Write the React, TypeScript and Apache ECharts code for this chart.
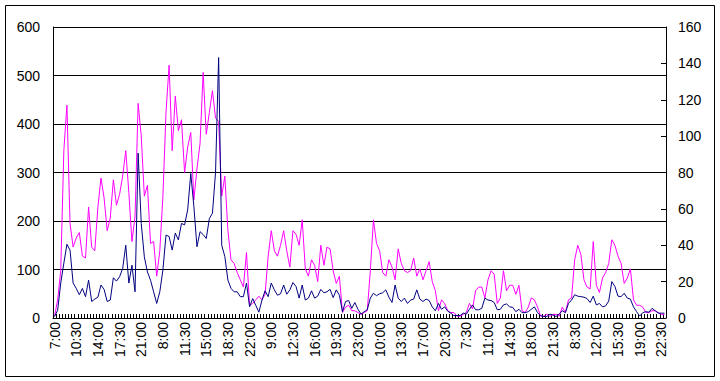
import React, { useEffect, useRef } from "react";
import * as echarts from "echarts";

// Half-hour slots shown for each day (night hours are skipped)
const slotTimes = [
  "7:00", "7:30", "8:00", "8:30", "9:00", "9:30", "10:00", "10:30", "11:00", "11:30",
  "12:00", "12:30", "13:00", "13:30", "14:00", "14:30", "15:00", "15:30", "16:00", "16:30",
  "17:00", "17:30", "18:00", "18:30", "19:00", "19:30", "20:00", "20:30", "21:00", "21:30",
  "22:00", "22:30", "23:00",
];
const dayCount = 6;

// Navy series, left axis (0-600)
const navyValues = [
  3, 16, 72, 113, 152, 140, 72, 61, 48, 61, 44, 78, 34, 39, 43, 68, 59, 34, 37, 83,
  76, 85, 102, 150, 72, 109, 54, 340, 195, 126, 95, 78, 54, 30, 54, 99, 171, 168, 140, 175,
  161, 195, 192, 223, 298, 230, 147, 178, 172, 164, 205, 216, 300, 537, 150, 127, 78, 61, 54, 54,
  44, 44, 72, 23, 40, 26, 12, 37, 56, 44, 72, 58, 47, 50, 68, 49, 58, 73, 65, 41,
  68, 37, 41, 56, 41, 45, 59, 52, 54, 59, 42, 58, 47, 13, 34, 36, 20, 32, 18, 8,
  13, 17, 41, 51, 46, 50, 52, 58, 43, 32, 68, 41, 34, 41, 30, 37, 39, 58, 39, 34,
  39, 36, 23, 15, 30, 18, 23, 14, 10, 5, 5, 5, 10, 8, 18, 27, 17, 17, 20, 41,
  37, 36, 32, 17, 18, 27, 29, 23, 22, 13, 18, 11, 11, 13, 18, 23, 11, 5, 3, 3,
  8, 6, 3, 8, 15, 11, 30, 37, 48, 45, 44, 43, 40, 32, 45, 27, 30, 23, 25, 35,
  75, 65, 45, 44, 51, 41, 39, 23, 13, 4, 11, 13, 12, 20, 15, 10, 10, 10,
];

// Magenta series, right axis (0-160)
const magentaValues = [
  1, 10, 26, 92, 117, 52, 39, 44, 47, 34, 33, 61, 39, 37, 61, 77, 66, 48, 55, 76,
  62, 68, 78, 92, 69, 42, 56, 118, 100, 67, 73, 41, 42, 23, 37, 67, 113, 139, 92, 122,
  103, 109, 80, 94, 102, 65, 82, 96, 135, 101, 113, 125, 110, 108, 67, 78, 48, 32, 30, 25,
  21, 17, 36, 7, 8, 10, 12, 10, 13, 34, 48, 37, 34, 40, 48, 37, 28, 48, 46, 40,
  54, 27, 23, 32, 29, 20, 40, 29, 39, 38, 26, 19, 23, 3, 6, 7, 4, 4, 3, 2,
  3, 4, 26, 54, 41, 37, 25, 23, 32, 28, 21, 38, 30, 26, 25, 26, 33, 23, 27, 21,
  26, 31, 20, 15, 4, 10, 8, 4, 3, 3, 1, 1, 2, 3, 8, 5, 15, 17, 17, 11,
  21, 26, 24, 8, 11, 26, 15, 18, 18, 13, 18, 4, 3, 6, 11, 10, 6, 1, 1, 2,
  1, 2, 2, 1, 6, 3, 10, 11, 32, 40, 35, 21, 17, 16, 42, 18, 14, 22, 25, 30,
  43, 40, 34, 30, 19, 22, 27, 10, 7, 7, 6, 3, 3, 4, 4, 3, 2, 2,
];

const categories: string[] = [];
for (let d = 0; d < dayCount; d++) {
  for (const t of slotTimes) categories.push(t);
}

const FONT = "'Liberation Sans', Arial, sans-serif";

export default function App() {
  const ref = useRef<HTMLDivElement>(null);

  useEffect(() => {
    document.body.style.margin = "0";
    if (!ref.current) return;
    const chart = echarts.init(ref.current, undefined, { renderer: "svg" });
    chart.setOption({
      animation: false,
      backgroundColor: "#ffffff",
      textStyle: { fontFamily: FONT },
      grid: { left: 53, right: 54, top: 27, bottom: 63, containLabel: false },
      xAxis: {
        type: "category",
        data: categories,
        boundaryGap: true,
        axisLine: { show: true, lineStyle: { color: "#000", width: 1 } },
        axisTick: { show: true, inside: true, interval: 0, length: 4, lineStyle: { color: "#000" } },
        axisLabel: { interval: 6, rotate: 90, color: "#000", fontSize: 14, margin: 4, fontFamily: FONT },
        splitLine: { show: false },
      },
      yAxis: [
        {
          type: "value",
          min: 0,
          max: 600,
          interval: 100,
          position: "left",
          axisLine: { show: true, lineStyle: { color: "#000", width: 1 } },
          axisTick: { show: true, inside: true, length: 5, lineStyle: { color: "#000" } },
          axisLabel: { color: "#000", fontSize: 14, margin: 13, fontFamily: FONT },
          splitLine: { show: true, lineStyle: { color: "#000", width: 1 } },
        },
        {
          type: "value",
          min: 0,
          max: 160,
          interval: 20,
          position: "right",
          axisLine: { show: true, lineStyle: { color: "#000", width: 1 } },
          axisTick: { show: true, inside: true, length: 5, lineStyle: { color: "#000" } },
          axisLabel: { color: "#000", fontSize: 14, margin: 12, fontFamily: FONT },
          splitLine: { show: false },
        },
      ],
      series: [
        {
          type: "line",
          yAxisIndex: 1,
          data: magentaValues,
          showSymbol: false,
          color: "#ff00ff",
          lineStyle: { color: "#ff00ff", width: 1 },
        },
        {
          type: "line",
          yAxisIndex: 0,
          data: navyValues,
          showSymbol: false,
          color: "#000080",
          lineStyle: { color: "#000080", width: 1 },
        },
      ],
      graphic: [
        {
          type: "rect",
          silent: true,
          shape: { x: 5.5, y: 5.5, width: 709, height: 371 },
          style: { fill: "none", stroke: "#000", lineWidth: 1 },
        },
      ],
    });
    return () => chart.dispose();
  }, []);

  return (
    <div
      ref={ref}
      style={{ position: "absolute", left: 0, top: 0, width: 720, height: 381 }}
    />
  );
}
